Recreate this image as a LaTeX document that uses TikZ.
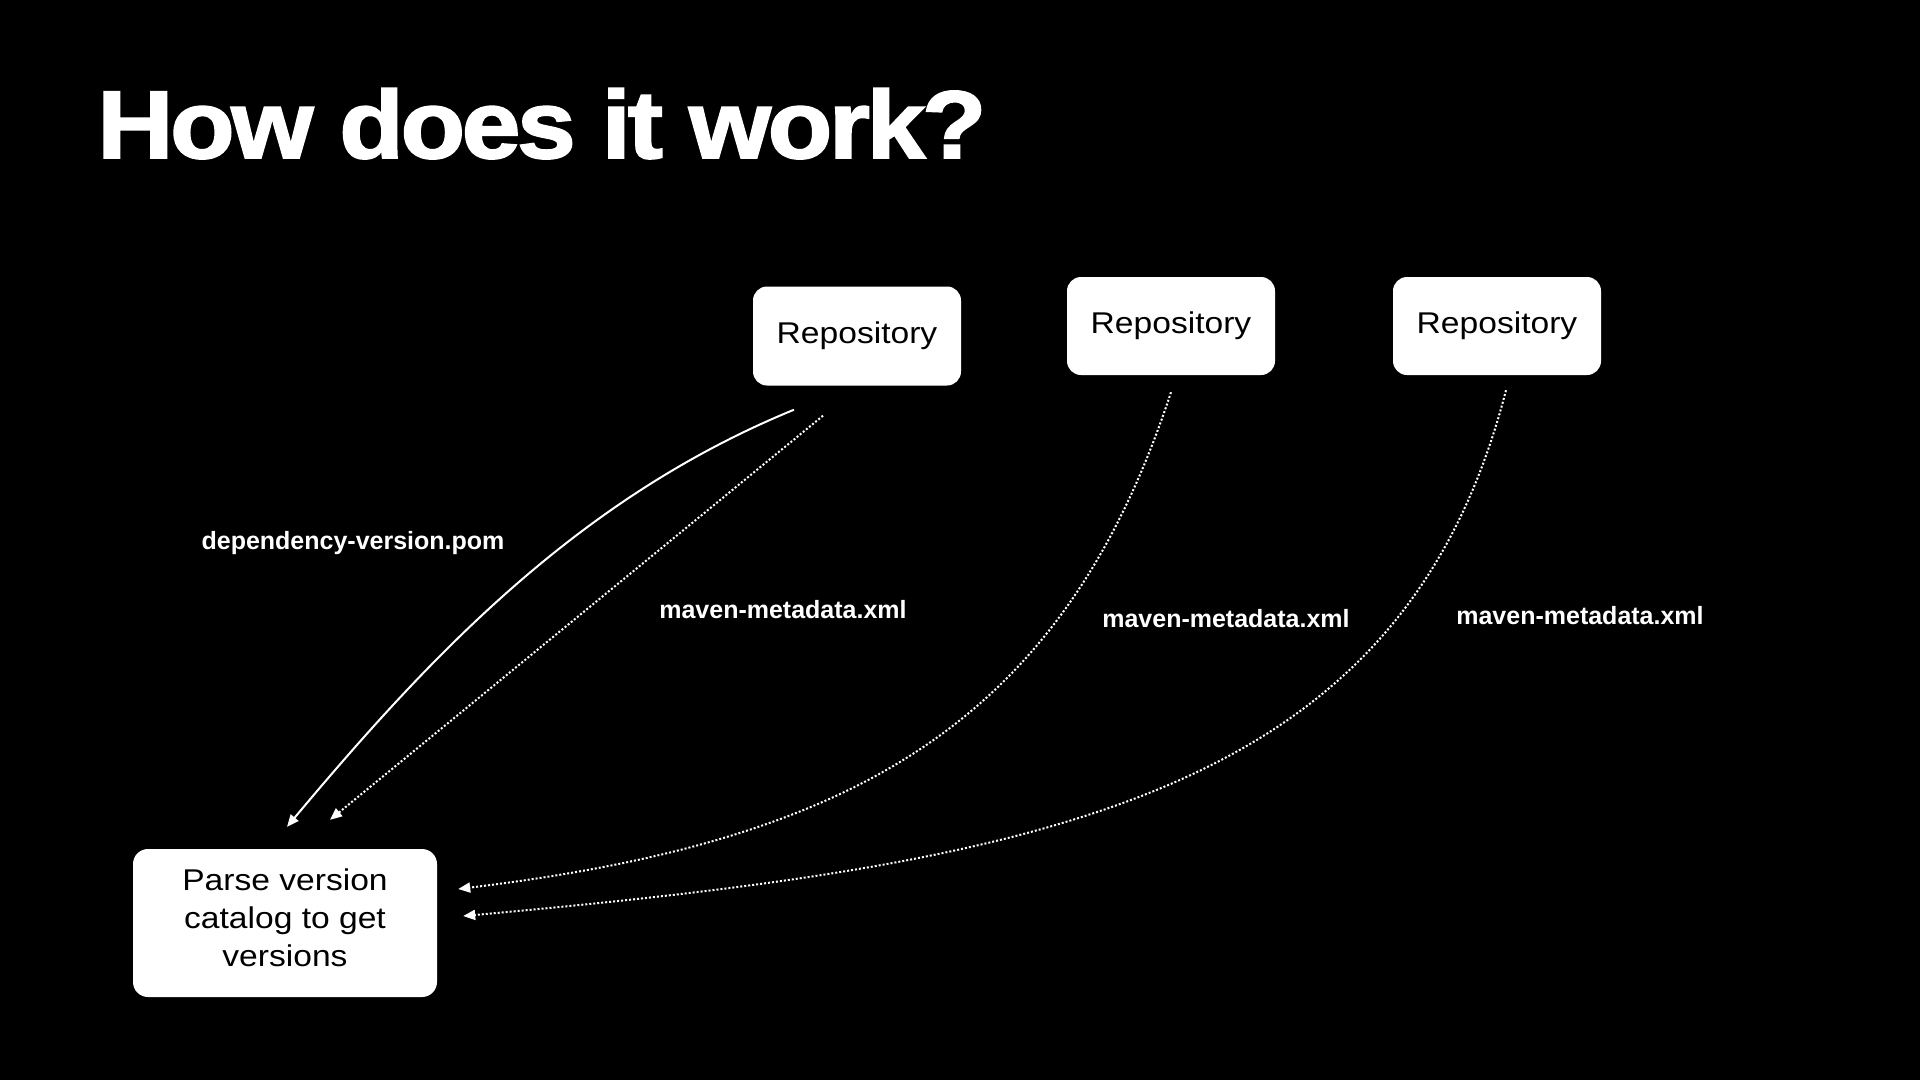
\documentclass[tikz,border=0pt]{standalone}
\usepackage{fontspec}
\setmainfont{Liberation Sans}
\newfontfamily\titlefont[FakeStretch=1.1,FakeBold=2,LetterSpace=-3.5]{Liberation Sans}
\newfontfamily\boxfont[FakeStretch=1.12]{Liberation Sans}
\usetikzlibrary{arrows.meta}
\begin{document}
\begin{tikzpicture}[x=1pt,y=-1pt,
  repo/.style={fill=white, rounded corners=14pt, minimum width=208pt, minimum height=99pt,
    inner sep=0pt, text=black, font=\boxfont\fontsize{30}{38}\selectfont},
  lbl/.style={text=white, inner sep=0pt, anchor=base, font=\fontsize{25}{30}\selectfont\bfseries},
  arr/.style={draw=white, line width=2pt, -{Triangle[length=12pt,width=10pt]}},
  dotarr/.style={arr, line width=2pt, dash pattern=on 2pt off 2pt}]
\fill[black] (0,0) rectangle (1920,1080);
\useasboundingbox (0,0) rectangle (1920,1080);

\node[anchor=base west, inner sep=0pt, text=white,
  font=\titlefont\bfseries\fontsize{96}{100}\selectfont] (title) at (97,158) {How does it work?};

\node[repo] (r1) at (857,336) {Repository};
\node[repo, minimum height=98pt] (r2) at (1171,326) {Repository};
\node[repo, minimum height=98pt] (r3) at (1497,326) {Repository};
\node[repo, minimum width=304pt, minimum height=148pt, rounded corners=15pt,
  align=center, text depth=10pt] (parse) at (285,923) {Parse version\\catalog to get\\versions};

\node[lbl] (l1) at (353,549) {dependency-version.pom};
\node[lbl] (l2) at (783,618) {maven-metadata.xml};
\node[lbl] (l3) at (1226,627) {maven-metadata.xml};
\node[lbl] (l4) at (1580,624) {maven-metadata.xml};

\draw[arr] ([shift={(-63,24)}]r1.south) .. controls (581,497) and (434,651) .. ([shift={(2,-22)}]parse.north);
\draw[dotarr] ([shift={(-34,30)}]r1.south) -- ([shift={(45,-29)}]parse.north);
\draw[dotarr] ([shift={(0,17)}]r2.south) .. controls (1062,724) and (854,841) .. ([shift={(21,-34)}]parse.east);
\draw[dotarr] ([shift={(9,15)}]r3.south) .. controls (1402,793) and (1061,862) .. ([shift={(26,-7)}]parse.east);
\end{tikzpicture}
\end{document}
